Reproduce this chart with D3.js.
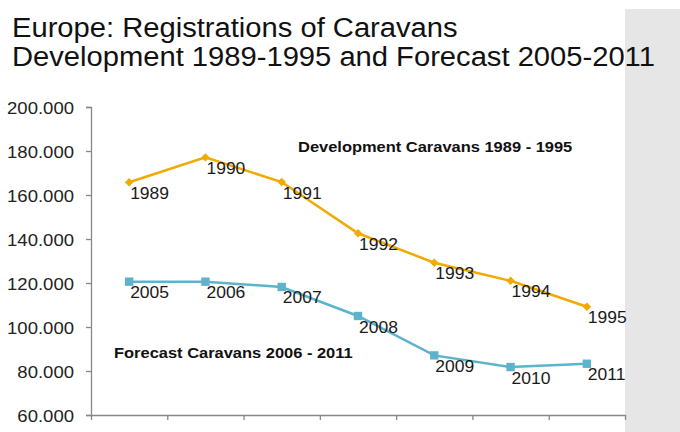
<!DOCTYPE html>
<html><head><meta charset="utf-8">
<script src="https://cdn.jsdelivr.net/npm/d3@7"></script>
<style>
html,body{margin:0;padding:0;background:#fff;}
svg{display:block;font-family:"Liberation Sans",Arial,sans-serif;}
</style></head>
<body><svg id="c" width="680" height="432"></svg>
<script>
const titleLines = ["Europe: Registrations of Caravans", "Development 1989-1995 and Forecast 2005-2011"];
const slots = [0,1,2,3,4,5,6];
const devYears = ["1989","1990","1991","1992","1993","1994","1995"];
const devValues = [165800,177100,165900,142600,129200,121000,109200];
const fcYears = ["2005","2006","2007","2008","2009","2010","2011"];
const fcValues = [120600,120600,118200,105000,87100,81800,83300];
const yTicks = [60000,80000,100000,120000,140000,160000,180000,200000];
const devLabel = "Development Caravans 1989 - 1995";
const fcLabel = "Forecast Caravans 2006 - 2011";

const svg = d3.select("#c");
const W = 680, H = 432;
const m = {left:91, right:625, top:107, bottom:415};

svg.append("rect").attr("x",625).attr("y",9).attr("width",55).attr("height",H-9).attr("fill","#e6e6e6");

const x = d3.scaleBand().domain(slots).range([m.left, m.right]).padding(0);
const y = d3.scaleLinear().domain([60000,200000]).range([m.bottom, m.top]);
const fmt = v => d3.format(",.0f")(v).replace(/,/g,".");

function stretchText(sel, tx, ty, sx){
  sel.attr("x",0).attr("y",0).attr("transform",(d,i)=>`translate(${typeof tx==="function"?tx(d,i):tx},${typeof ty==="function"?ty(d,i):ty}) scale(${sx},1)`);
}

// y axis
const ya = svg.append("g").attr("transform",`translate(${m.left},0)`)
  .call(d3.axisLeft(y).tickValues(yTicks).tickFormat(fmt).tickSizeOuter(0).tickSize(5).tickPadding(12));
ya.select(".domain").attr("stroke","#888").attr("stroke-width",1.3);
ya.selectAll(".tick line").attr("stroke","#888").attr("stroke-width",1.3);
const yt = ya.selectAll(".tick text").attr("font-size","17px").attr("fill","#222").attr("font-family","Liberation Sans, Arial, sans-serif").attr("dy",null);
stretchText(yt, -17, 6, 1.09);

// x axis with ticks at band boundaries
const xa = svg.append("g").attr("transform",`translate(0,${m.bottom})`);
const xb = d3.scaleLinear().domain([0,7]).range([m.left,m.right]);
xa.call(d3.axisBottom(xb).tickValues(d3.range(0,8)).tickFormat("").tickSize(5).tickSizeOuter(0));
xa.select(".domain").attr("stroke","#888").attr("stroke-width",1.3);
xa.selectAll(".tick line").attr("stroke","#888").attr("stroke-width",1.3);

const cx = i => x(i) + x.bandwidth()/2;
const line = d3.line().x((d,i)=>cx(i)).y(d=>y(d));

function series(vals, labels, color, isDiamond){
  svg.append("path").datum(vals).attr("d",line).attr("fill","none").attr("stroke",color).attr("stroke-width",2.5);
  const sym = d3.symbol().type(d3.symbolSquare).size(isDiamond?36:70);
  svg.selectAll(null).data(vals).enter().append("path")
    .attr("d",sym).attr("transform",(d,i)=>`translate(${cx(i)},${y(d)})` + (isDiamond?" rotate(45)":"")).attr("fill",color);
  const t = svg.selectAll(null).data(vals).enter().append("text")
    .attr("font-size","16.5px").attr("fill","#1a1a1a").text((d,i)=>labels[i]);
  stretchText(t, (d,i)=>cx(i)+1, d=>y(d)+16.5, 1.06);
}
series(devValues, devYears, "#f0aa00", true);
series(fcValues, fcYears, "#5bb4cb", false);

const a1 = svg.append("text").attr("font-size","14.5px").attr("font-weight","bold").attr("fill","#111").text(devLabel);
stretchText(a1, 298, 151.5, 1.135);
const a2 = svg.append("text").attr("font-size","14.5px").attr("font-weight","bold").attr("fill","#111").text(fcLabel);
stretchText(a2, 114, 358, 1.135);

const tl = svg.selectAll(null).data(titleLines).enter().append("text")
  .attr("font-size","27px").attr("fill","#111").text(d=>d);
stretchText(tl, 12, (d,i)=>37+i*28.5, 1.08);
</script></body></html>
